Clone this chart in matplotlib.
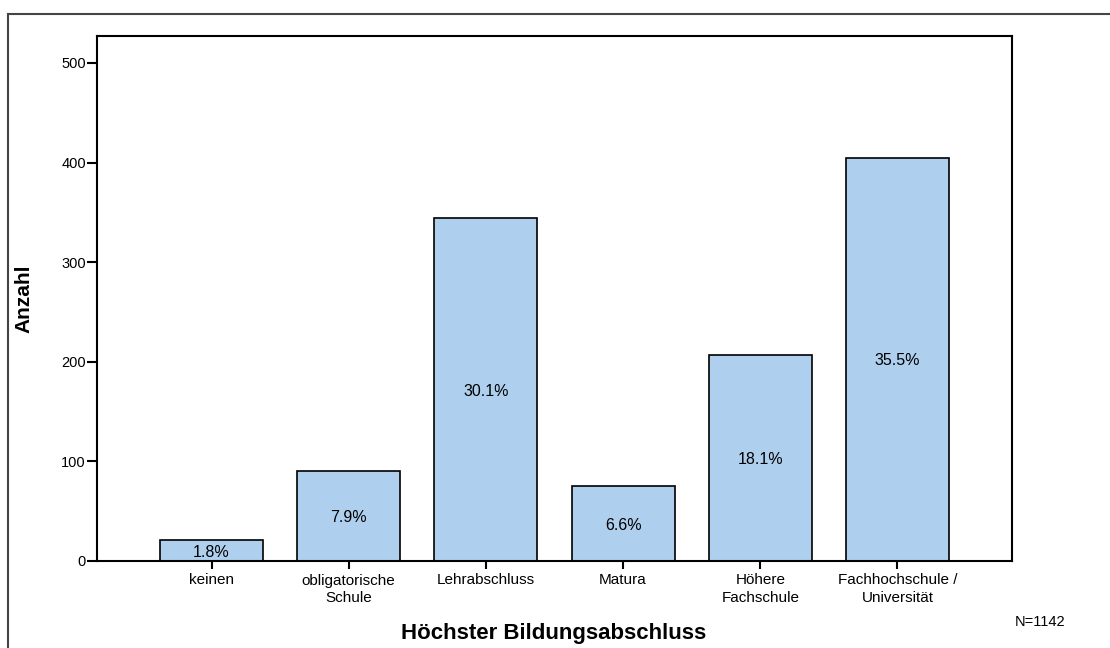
import matplotlib
matplotlib.use("Agg")
import matplotlib.pyplot as plt
from matplotlib.lines import Line2D

plt.rcParams['font.family'] = ['Liberation Sans', 'DejaVu Sans']

# Data
categories = ['keinen', 'obligatorische\nSchule', 'Lehrabschluss', 'Matura',
              'Höhere\nFachschule', 'Fachhochschule /\nUniversität']
counts = [21, 90, 344, 75, 207, 405]
percent_labels = ['1.8%', '7.9%', '30.1%', '6.6%', '18.1%', '35.5%']
y_ticks = [0, 100, 200, 300, 400, 500]
n_total = 1142

W, H = 1110, 648
fig = plt.figure(figsize=(W / 100, H / 100), dpi=100)
fig.patch.set_facecolor('white')

# axes box in pixels: left 97, right 1012, top 36, bottom 561
ax = fig.add_axes([97 / W, 1 - 561 / H, (1012 - 97) / W, (561 - 36) / H])

x = range(len(categories))
bars = ax.bar(x, counts, width=0.75, color='#aed0ee', edgecolor='black',
              linewidth=1.2, zorder=2)

for b, lab in zip(bars, percent_labels):
    ax.text(b.get_x() + b.get_width() / 2, b.get_height() / 2, lab,
            ha='center', va='center_baseline', fontsize=11.5, color='black', zorder=3)

ax.set_xlim(-0.835, len(categories) - 1 + 0.835)
ax.set_ylim(0, 527)
ax.set_yticks(y_ticks)
ax.set_xticks(list(x))
ax.set_xticklabels(categories, fontsize=11, linespacing=1.3)
ax.tick_params(axis='y', labelsize=10.5, length=7, width=1.5, pad=1)
ax.tick_params(axis='x', length=6, width=1.5, pad=3)

for s in ax.spines.values():
    s.set_linewidth(1.5)

ax.set_ylabel('Anzahl', fontsize=15, fontweight='bold', labelpad=0)
ax.yaxis.set_label_coords(-64 / (1012 - 97), 0.5)
fig.text(554 / W, 1 - 634 / H, 'Höchster Bildungsabschluss', ha='center',
         va='center', fontsize=16, fontweight='bold')
fig.text(1040 / W, 1 - 622 / H, 'N=%d' % n_total, ha='center', va='center',
         fontsize=10.5)

# outer frame (left and top edges only are visible)
fig.add_artist(Line2D([8 / W, 8 / W], [0, 1 - 13.5 / H], transform=fig.transFigure,
                      color='#444444', linewidth=1.5))
fig.add_artist(Line2D([8 / W, 1], [1 - 13.5 / H, 1 - 13.5 / H],
                      transform=fig.transFigure, color='#444444', linewidth=1.5))

fig.savefig('out.png', dpi=100)
